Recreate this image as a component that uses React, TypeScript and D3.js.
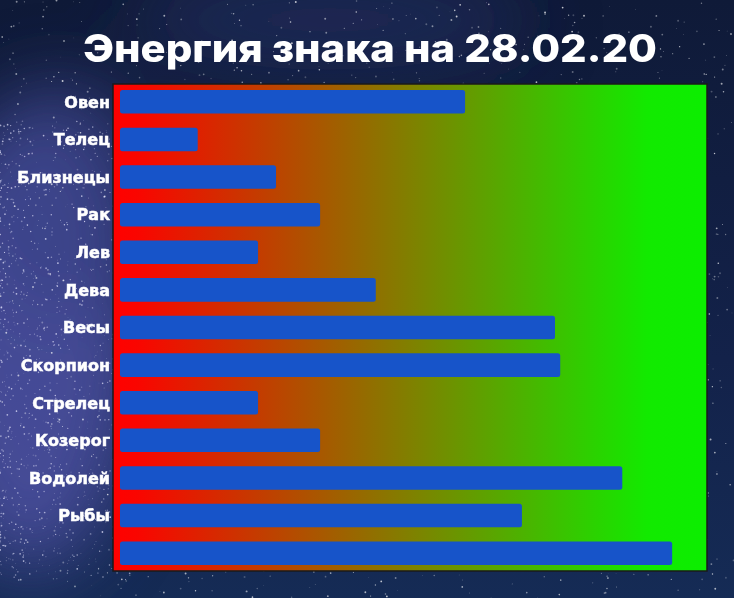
import React from 'react'
import * as d3 from 'd3'

// Chart data
const TITLE = 'Энергия знака на 28.02.20'
const SIGNS = ['Овен', 'Телец', 'Близнецы', 'Рак', 'Лев', 'Дева', 'Весы', 'Скорпион', 'Стрелец', 'Козерог', 'Водолей', 'Рыбы', '']
const ENERGY = [59.5, 13.4, 26.9, 34.5, 23.8, 44.1, 75.0, 75.9, 23.8, 34.5, 86.6, 69.3, 95.2]

const WIDTH = 734
const HEIGHT = 598
const plot = { left: 113, right: 707, top: 84, bottom: 571 }

// decorative star field (fixed seed so it is stable)
let seed = 12345
const rnd = () => {
  seed = (seed * 1103515245 + 12345) % 2147483648
  return seed / 2147483648
}
const STARS = d3.range(1800).map(() => ({
  x: rnd() * WIDTH,
  y: rnd() * HEIGHT,
  r: rnd() * 0.7 + 0.3,
  o: rnd() * 0.55 + 0.2,
}))
// extra dust in the milky way on the left
const DUST = d3.range(900).map(() => ({
  x: Math.pow(rnd(), 1.6) * 130,
  y: 120 + rnd() * 460,
  r: rnd() * 0.6 + 0.3,
  o: rnd() * 0.5 + 0.3,
}))

export default function App() {
  const idx = SIGNS.map((_, i) => String(i))

  const x = d3.scaleLinear().domain([0, 100]).range([120, 700])
  const y = d3.scaleBand<string>()
    .domain(idx)
    .range([plot.top, plot.bottom])
    .paddingInner(0.375)
    .paddingOuter(0.16)

  return (
    <svg
      width={WIDTH}
      height={HEIGHT}
      style={{ position: 'absolute', left: 0, top: 0, display: 'block' }}
    >
      <defs>
        <linearGradient id="energy" x1="0" x2="1" y1="0" y2="0">
          <stop offset="0%" stopColor="#ff0000" />
          <stop offset="4%" stopColor="#fa0500" />
          <stop offset="50%" stopColor="#808000" />
          <stop offset="90%" stopColor="#12ea00" />
          <stop offset="100%" stopColor="#0cee00" />
        </linearGradient>
        <linearGradient id="sky" x1="0" x2="0" y1="0" y2="1">
          <stop offset="0%" stopColor="#0f1a38" />
          <stop offset="60%" stopColor="#13224a" />
          <stop offset="100%" stopColor="#152b55" />
        </linearGradient>
        <filter id="blur" x="-50%" y="-50%" width="200%" height="200%">
          <feGaussianBlur stdDeviation="35" />
        </filter>
      </defs>

      {/* night sky */}
      <rect width={WIDTH} height={HEIGHT} fill="url(#sky)" />
      <g filter="url(#blur)">
        <ellipse cx={30} cy={340} rx={110} ry={230} fill="#4a4f9e" opacity={0.9} />
        <ellipse cx={60} cy={200} rx={90} ry={120} fill="#3b4286" opacity={0.7} />
        <ellipse cx={330} cy={20} rx={200} ry={50} fill="#24305f" opacity={0.7} />
      </g>
      <g>
        {STARS.map((s, i) => (
          <circle key={i} cx={s.x} cy={s.y} r={s.r} fill="#ffffff" opacity={s.o} />
        ))}
        {DUST.map((s, i) => (
          <circle key={'d' + i} cx={s.x} cy={s.y} r={s.r} fill="#e8e8ff" opacity={s.o} />
        ))}
      </g>

      <text
        x={370}
        y={62}
        textAnchor="middle"
        fill="#ffffff"
        fontFamily="Inter, 'Open Sans', sans-serif"
        fontWeight={800}
        fontSize={38}
        textLength={574}
        lengthAdjust="spacingAndGlyphs"
      >
        {TITLE}
      </text>

      {/* plot background */}
      <rect
        x={plot.left}
        y={plot.top}
        width={plot.right - plot.left}
        height={plot.bottom - plot.top}
        fill="url(#energy)"
        stroke="#1a1a1a"
        strokeWidth={1.5}
      />

      {idx.map((k, i) => (
        <rect
          key={k}
          x={x(0)}
          y={y(k)}
          width={x(ENERGY[i]) - x(0)}
          height={y.bandwidth()}
          rx={2.5}
          fill="#1754c9"
        />
      ))}

      {idx.map((k, i) => (
        <text
          key={k}
          x={110}
          y={(y(k) ?? 0) + y.bandwidth() / 2}
          dy="0.36em"
          textAnchor="end"
          fill="#ffffff"
          stroke="#ffffff"
          strokeWidth={0.5}
          fontFamily="'DejaVu Sans', sans-serif"
          fontWeight="bold"
          fontSize={16}
        >
          {SIGNS[i]}
        </text>
      ))}
    </svg>
  )
}
